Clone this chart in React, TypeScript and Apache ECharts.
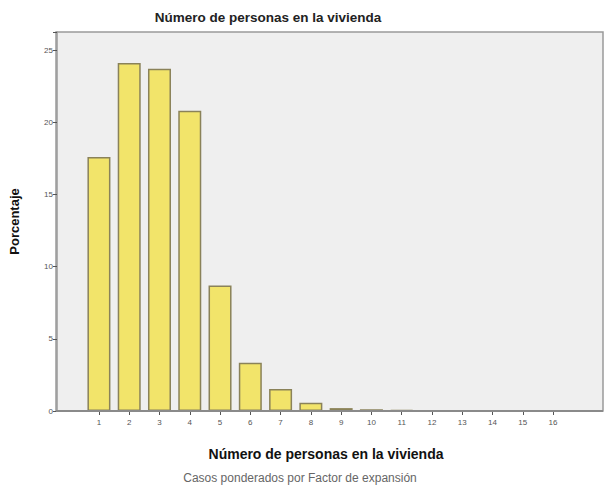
import React, { useEffect, useRef } from "react";
import * as echarts from "echarts";

const categories = ["1", "2", "3", "4", "5", "6", "7", "8", "9", "10", "11", "12", "13", "14", "15", "16"];
const percentages = [17.6, 24.1, 23.7, 20.8, 8.7, 3.35, 1.52, 0.58, 0.2, 0.12, 0.07, 0.05, 0.04, 0.03, 0.02, 0.02];
const yTicks = [0, 5, 10, 15, 20, 25];

const titleText = "Número de personas en la vivienda";
const xName = "Número de personas en la vivienda";
const yName = "Porcentaje";
const footnote = "Casos ponderados por Factor de expansión";

export default function App() {
  const ref = useRef<HTMLDivElement>(null);
  useEffect(() => {
    if (!ref.current) return;
    const chart = echarts.init(ref.current, undefined, { renderer: "svg" });
    const font = "'Liberation Sans', Arial, sans-serif";
    chart.setOption({
      animation: false,
      backgroundColor: "#ffffff",
      textStyle: { fontFamily: font },
      grid: { left: 82.8, right: 35.8, top: 32, bottom: 76, containLabel: false },
      graphic: [
        {
          type: "rect",
          z: -10,
          shape: { x: 56, y: 32, width: 547, height: 379 },
          style: { fill: "#efefef", stroke: "#9a9a9a", lineWidth: 1.5 },
          silent: true,
        },
        {
          type: "line",
          z: 10,
          shape: { x1: 56, y1: 411, x2: 603, y2: 411 },
          style: { stroke: "#8a8a8a", lineWidth: 2 },
          silent: true,
        },
        {
          type: "text",
          x: 268,
          y: 17,
          style: {
            text: titleText,
            fontFamily: font,
            fontSize: 13.5,
            fontWeight: "bold",
            fill: "#222",
            align: "center",
            verticalAlign: "middle",
          },
        },
        {
          type: "text",
          x: 300,
          y: 478,
          style: {
            text: footnote,
            fontFamily: font,
            fontSize: 12,
            fill: "#666",
            align: "center",
            verticalAlign: "middle",
          },
        },
      ],
      xAxis: {
        type: "category",
        data: categories,
        name: xName,
        nameLocation: "middle",
        nameGap: 36,
        nameTextStyle: { fontSize: 14, fontWeight: "bold", color: "#111", fontFamily: font },
        axisLine: { show: false },
        axisTick: { show: true, alignWithLabel: true, length: 4, lineStyle: { color: "#555" } },
        axisLabel: { fontSize: 8, color: "#555", margin: 7, interval: 0 },
        splitLine: { show: false },
      },
      yAxis: {
        type: "value",
        min: 0,
        max: 26.25,
        interval: 5,
        offset: 26.8,
        name: yName,
        nameLocation: "middle",
        nameGap: 36,
        nameTextStyle: { fontSize: 13, fontWeight: "bold", color: "#111", fontFamily: font },
        axisLine: { show: true, lineStyle: { color: "#9a9a9a", width: 1.5 } },
        axisTick: { show: true, length: 4, lineStyle: { color: "#555" } },
        axisLabel: {
          fontSize: 8,
          color: "#555",
          margin: 4,
          formatter: (v: number) => (yTicks.includes(v) ? String(v) : ""),
        },
        splitLine: { show: false },
      },
      series: [
        {
          type: "bar",
          data: percentages,
          barWidth: 23,
          itemStyle: { color: "#f2e46a", borderColor: "#8a8259", borderWidth: 1.5 },
        },
      ],
    });
    return () => chart.dispose();
  }, []);
  return (
    <div
      ref={ref}
      style={{ position: "fixed", left: 0, top: 0, width: 604, height: 487 }}
    />
  );
}
